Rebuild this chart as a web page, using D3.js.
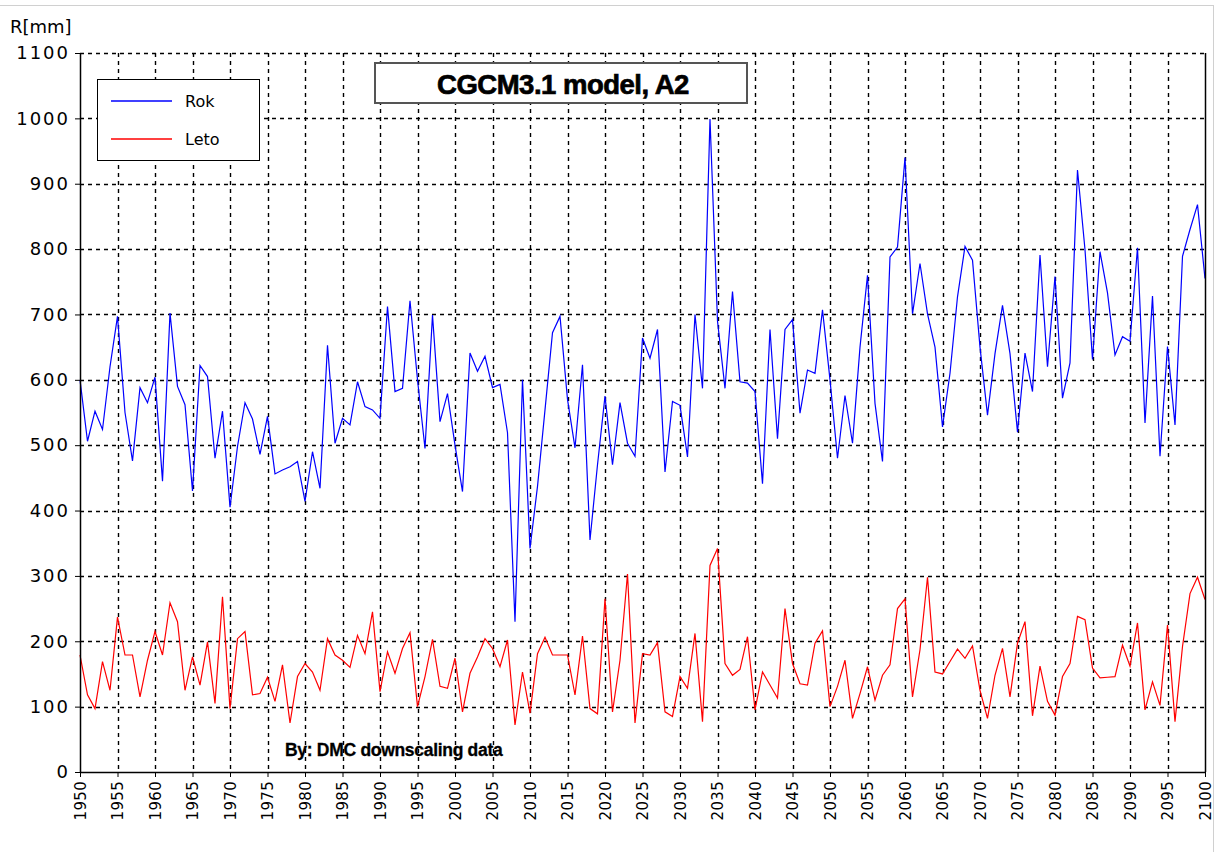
<!DOCTYPE html>
<html>
<head>
<meta charset="utf-8">
<script src="https://cdn.jsdelivr.net/npm/d3@7"></script>
<style>
  html, body { margin: 0; padding: 0; background: #fff; }
  svg { display: block; }
</style>
</head>
<body>
<svg id="chart" width="1217" height="852"></svg>
<script>
const years = d3.range(1950, 2101);

const rok = [
  600, 506, 552, 524, 620, 697, 550, 476, 588, 565,
  604, 445, 702, 590, 562, 430, 622, 605, 480, 552,
  405, 498, 565, 540, 486, 544, 456, 462, 467, 475,
  414, 490, 434, 653, 503, 541, 531, 597, 559, 554,
  541, 712, 582, 587, 721, 600, 495, 699, 536, 579,
  500, 429, 641, 613, 636, 588, 593, 519, 230, 600,
  342, 437, 554, 672, 697, 570, 496, 623, 355, 470,
  575, 470, 565, 503, 483, 664, 633, 677, 459, 567,
  561, 482, 700, 587, 999, 690, 587, 735, 597, 595,
  582, 441, 677, 510, 677, 692, 549, 615, 610, 707,
  600, 480, 576, 503, 650, 760, 564, 475, 788, 803,
  940, 701, 778, 701, 650, 528, 610, 727, 804, 783,
  650, 546, 640, 714, 640, 520, 641, 582, 791, 620,
  758, 572, 626, 921, 799, 631, 796, 733, 638, 666,
  659, 802, 534, 728, 483, 651, 531, 789, 830, 868,
  755
];

const leto = [
  179, 118, 97, 169, 125, 237, 179, 179, 115, 171,
  215, 179, 259, 230, 125, 176, 133, 199, 105, 268,
  97, 204, 215, 118, 120, 145, 108, 164, 75, 146,
  166, 153, 125, 204, 179, 171, 160, 209, 181, 245,
  123, 184, 151, 189, 213, 100, 146, 203, 131, 128,
  174, 92, 151, 176, 204, 189, 161, 202, 72, 153,
  90, 181, 206, 179, 179, 179, 118, 208, 97, 89,
  265, 92, 171, 303, 75, 181, 179, 198, 92, 85,
  146, 128, 212, 77, 316, 342, 166, 148, 157, 207,
  95, 153, 133, 113, 250, 166, 135, 133, 197, 216,
  100, 131, 171, 82, 120, 161, 110, 148, 164, 250,
  265, 115, 187, 298, 153, 150, 169, 188, 174, 193,
  125, 82, 148, 189, 115, 197, 230, 86, 162, 108,
  87, 146, 166, 238, 233, 159, 144, 145, 146, 194,
  162, 228, 95, 138, 102, 225, 77, 192, 273, 298,
  264
];

const yTicks = [0, 100, 200, 300, 400, 500, 600, 700, 800, 900, 1000, 1100];
const xTicks = d3.range(1950, 2101, 5);
const seriesNames = ["Rok", "Leto"];
const seriesColors = ["#0000ff", "#ff0000"];
const titleText = "CGCM3.1 model, A2";
const yLabel = "R[mm]";
const noteText = "By: DMC downscaling data";

const svg = d3.select("#chart");
const L = 80, R = 1205, T = 53, B = 772;

const x = d3.scaleLinear().domain([1950, 2100]).range([L, R]);
const y = d3.scaleLinear().domain([0, 1100]).range([B, T]);

// outer frame
svg.append("line").attr("x1", 0).attr("x2", 1213).attr("y1", 5.5).attr("y2", 5.5)
  .attr("stroke", "#d0d0d0").attr("stroke-width", 1);
svg.append("line").attr("x1", 1213.5).attr("x2", 1213.5).attr("y1", 5).attr("y2", 852)
  .attr("stroke", "#d0d0d0").attr("stroke-width", 1);

// gridlines
const grid = svg.append("g").attr("class", "grid");
grid.selectAll("line.h").data(yTicks.filter(d => d > 0)).join("line")
  .attr("x1", L).attr("x2", R)
  .attr("y1", d => Math.round(y(d)) + 0.5).attr("y2", d => Math.round(y(d)) + 0.5)
  .attr("stroke", "#000").attr("stroke-width", 1.4).attr("stroke-dasharray", "4,4");
grid.selectAll("line.v").data(xTicks.filter(d => d > 1950 && d < 2100)).join("line")
  .attr("y1", T).attr("y2", B)
  .attr("x1", d => Math.round(x(d)) + 0.5).attr("x2", d => Math.round(x(d)) + 0.5)
  .attr("stroke", "#000").attr("stroke-width", 1.4).attr("stroke-dasharray", "4,4");

// lines
const line = d3.line().x((d, i) => x(years[i])).y(d => y(d));
svg.append("path").datum(leto).attr("d", line)
  .attr("fill", "none").attr("stroke", seriesColors[1]).attr("stroke-width", 1.2);
svg.append("path").datum(rok).attr("d", line)
  .attr("fill", "none").attr("stroke", seriesColors[0]).attr("stroke-width", 1.2);

// right edge
svg.append("line").attr("x1", R + 0.5).attr("x2", R + 0.5).attr("y1", T).attr("y2", B)
  .attr("stroke", "#000").attr("stroke-width", 1.5);

// axes
const yAxis = svg.append("g").attr("transform", `translate(${L},0)`)
  .call(d3.axisLeft(y).tickValues(yTicks).tickFormat(d3.format("d"))
    .tickSize(5).tickPadding(5).tickSizeOuter(0));
yAxis.select(".domain").attr("stroke-width", 1.5);
yAxis.selectAll("text").attr("font-family", "DejaVu Sans").attr("font-size", 18)
  .attr("letter-spacing", 2).attr("fill", "#000");

const xAxis = svg.append("g").attr("transform", `translate(0,${B})`)
  .call(d3.axisBottom(x).tickValues(xTicks).tickSize(5).tickFormat(d3.format("d")).tickSizeOuter(0));
xAxis.select(".domain").attr("stroke-width", 1.5);
xAxis.selectAll("text")
  .attr("font-family", "DejaVu Sans").attr("font-size", 15).attr("fill", "#000")
  .attr("letter-spacing", 0.3)
  .attr("text-anchor", "end")
  .attr("transform", "rotate(-90)")
  .attr("x", -9).attr("y", 0).attr("dy", "0.36em");

// y label
svg.append("text").attr("x", 10).attr("y", 33).text(yLabel)
  .attr("font-family", "DejaVu Sans").attr("font-size", 18).attr("fill", "#000");

// title box
svg.append("rect").attr("x", 375).attr("y", 63).attr("width", 372).attr("height", 40)
  .attr("fill", "#fff").attr("stroke", "#555").attr("stroke-width", 2);
svg.append("text").attr("x", 563).attr("y", 94).attr("text-anchor", "middle")
  .text(titleText)
  .attr("font-family", "Liberation Sans, Arial").attr("font-weight", "bold")
  .attr("font-size", 27.5).attr("fill", "#000").attr("stroke", "#000").attr("stroke-width", 0.7)
  .attr("letter-spacing", -0.5);

// legend
const lg = svg.append("g");
lg.append("rect").attr("x", 97.5).attr("y", 79.5).attr("width", 162).attr("height", 81)
  .attr("fill", "#fff").attr("stroke", "#000").attr("stroke-width", 1);
seriesNames.forEach((name, i) => {
  const yy = 101 + i * 38;
  lg.append("line").attr("x1", 111).attr("x2", 172).attr("y1", yy).attr("y2", yy)
    .attr("stroke", seriesColors[i]).attr("stroke-width", 1.4);
  lg.append("text").attr("x", 185).attr("y", yy + 6).text(name)
    .attr("font-family", "DejaVu Sans").attr("font-size", 16).attr("fill", "#000");
});

// note
svg.append("text").attr("x", 285).attr("y", 756).text(noteText)
  .attr("font-family", "Liberation Sans, Arial").attr("font-weight", "bold")
  .attr("font-size", 17.5).attr("fill", "#000").attr("stroke", "#000").attr("stroke-width", 0.3)
  .attr("letter-spacing", -0.3);
</script>
</body>
</html>
